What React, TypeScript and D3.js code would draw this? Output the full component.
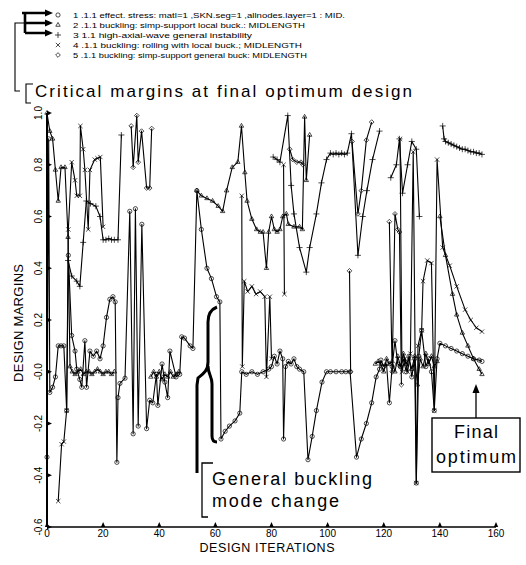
import * as d3 from 'd3';

type Pt = [number, number] | null;

// legend text for the five constraints
const legendLabels = [
  '1 .1.1 effect. stress: matl=1 ,SKN.seg=1 ,allnodes.layer=1 : MID.',
  '2 .1.1 buckling: simp-support local buck.:  MIDLENGTH',
  '3  1.1 high-axial-wave general instability',
  '4 .1.1 buckling: rolling with local buck.;  MIDLENGTH',
  '5 .1.1 buckling: simp-support general buck: MIDLENGTH',
];
const legendWidths = [272, 232, 179, 229, 234];

// [iteration, margin], null = constraint not critical (gap)
const effectStress: Pt[] = [
  [0, -0.33], [0.6, 0.9], [1, -0.08], [2, -0.06], [3, -0.02], [4, 0.1], [5, 0.1], [6, 0.1], [7, -0.15], [7.6, 0.45],
  [8.8, 0.14], [10, 0.08], [10.6, 0.01], [11.7, -0.03], [12.4, -0.06], [13.5, 0.12], [14.1, -0.06], [15.3, 0.08],
  [16.5, 0.06], [17.7, 0.08], [18.9, 0.05], [20, 0.1], [21.2, 0.21], [22.4, 0.28], [23.5, 0.29], [24.3, 0.27],
  [24.9, -0.35], [25.3, -0.1], [26, -0.045], [27.8, -0.025], [29.5, 0.62], [30.7, -0.24], [31.5, 0.63], [32.5, -0.21],
  [33.8, 0.57], [35.5, -0.22], [36.6, -0.11], [37.7, -0.12], [39, -0.01], [39.5, -0.13], [41, 0.03], [42, -0.04],
  [43, -0.1], [43.8, 0.08], [46, -0.02], [47.3, -0.01], [48, 0.135], [49, 0.13], [51, 0.1], [52, 0.09], [53.4, 0.7],
  [55, 0.55], [57, 0.4], [58.6, 0.36], [60.4, 0.29], [61.6, 0.27], [62, -0.26], [63.5, -0.23], [65, -0.21], [67, -0.19],
  [68.7, -0.16], [69.4, 0.0], [71, -0.01], [73, 0.0], [75, -0.01], [77, 0.0], [79, 0.01], [80, 0.02], [81, 0.06],
  [82, 0.03], [83, 0.08], [84, 0.05], [84.3, -0.26], [85, 0.02], [86, 0.04], [87, 0.03], [88, 0.05], [89, 0.02],
  [90, 0.01], [91.5, 0.0], [93, -0.34], [94.5, -0.25], [96, -0.15], [98, -0.04], [99.6, 0.0], [101, 0.0], [103, 0.0],
  [105, 0.0], [106.5, 0.0], [108, 0.0], [110.3, -0.33], [112, -0.26], [113.8, -0.2], [115.7, -0.12], [117.3, -0.02],
  [118.5, 0.01], [119, 0.045], [120, 0.02], [121, 0.03], [122, -0.12], [123, 0.02], [124, 0.12], [125, 0.03],
  [126, 0.02], [127, 0.05], [128, 0.0], [129, 0.06], [130, -0.02], [131, 0.05], [131.6, -0.43], [132.5, 0.06],
  [133.5, 0.16], [135, 0.02], [136, 0.05], [137, 0.0], [138, -0.15], [139, 0.05], [140, 0.11], [142, 0.1],
  [144, 0.09], [146, 0.08], [148, 0.07], [150, 0.06], [152, 0.05], [154, 0.045], [155, 0.04],
];

const localBuck: Pt[] = [
  [0, 1.0], [1, 0.93], [2, 0.9], [3, 0.78], [4, 0.66], [5, 0.79], [6.4, 0.79], [7.5, 0.52], [8.2, 0.02], [9, 0.0],
  [10, -0.01], [11, 0.0], [12, 0.01], [13, -0.01], [14, 0.0], [15, 0.0], [16, -0.01], [17, 0.0], [18, 0.01], [19, 0.0],
  [20, -0.01], [21, 0.0], [22, 0.0], [23, -0.01], [24, 0.0], null,
  [37, -0.02], [38, 0.0], [39, -0.02], [40, 0.0], [41, -0.03], [42, -0.01], [43, -0.02], [44, 0.0], [45, -0.02],
  [46, -0.01], [47, 0.0], null,
  [53.4, 0.7], [55, 0.68], [57, 0.67], [59, 0.66], [61, 0.64], [62.6, 0.62], [64, 0.7], [66, 0.79], [68, 0.81],
  [69.3, 0.95], [70.5, 0.77], [71.3, 0.66], [73, 0.59], [74.7, 0.55], [76, 0.54], [77, 0.54], [78.2, 0.4], [79, 0.54],
  [80, 0.6], [81, 0.55], [82, 0.54], [83, 0.55], [84, 0.6], [85.3, 0.61], [86, 0.57], [88, 0.56], [90, 0.56],
  [91, 0.55], [91.8, 0.985], [92.4, 0.74], [93.6, 0.915], null,
  [117, 0.03], [118, 0.04], [119, 0.03], [120, 0.0], [121, 0.05], [122, 0.03], [123, 0.04], [124, 0.0], [125, 0.06],
  [126, 0.02], [127, 0.07], [128, 0.03], [129, 0.05], [130, 0.01], [131, 0.06], [132, -0.05], [133, 0.05], [134, 0.02],
  [135, 0.07], [136, 0.03], [137, 0.06], [138, 0.02], [139, 0.04], null,
  [140, 0.6], [142, 0.45], [144.5, 0.3], [146, 0.22], [148, 0.15], [150, 0.1], [152, 0.05], [154, 0.01], [155, -0.01],
];

const generalInstab: Pt[] = [
  [7.5, 0.43], [8.8, 0.37], [10.6, 0.35], [11.7, 0.33], [12.9, 0.5], [14, 0.66], [15.5, 0.65], [17.4, 0.64],
  [18.9, 0.6], [20, 0.51], [21, 0.51], [22, 0.515], [23, 0.51], [24, 0.51], [25.3, 0.51], [26.5, 0.915], null,
  [80.6, 0.83], [82, 0.82], [83, 0.81], [85.8, 0.99], [87, 0.72], [88, 0.61], [90, 0.48], [92.4, 0.385], [93.6, 0.48],
  [96, 0.61], [97.8, 0.73], [99.6, 0.82], [101, 0.845], [102, 0.84], [103, 0.845], [104, 0.84], [105, 0.845],
  [106, 0.84], [107, 0.845], [108.5, 0.92], [110.8, 0.45], [112.5, 0.6], [114, 0.7], [116, 0.82], [118.5, 0.93], null,
  [122.5, 0.75], [124.5, 0.8], [125.6, 0.9], [126.7, 0.69], [128.5, 0.8], [130, 0.89], [131.6, 0.86], [132.7, 0.6], null,
  [141, 0.95], [141.5, 0.9], [142, 0.89], [143, 0.885], [144, 0.88], [145, 0.875], [146, 0.87], [147, 0.865],
  [148, 0.86], [149, 0.86], [150, 0.855], [151, 0.85], [152, 0.85], [153, 0.845], [154, 0.845], [155, 0.84],
];

const rollingBuck: Pt[] = [
  [4, -0.5], [5.2, -0.28], [6, -0.27], [7, -0.15], [7.6, 0.55], [8.8, 0.81], [10, 0.74], [10.6, 0.68], [11.7, 0.68],
  [11.9, 0.95], [12.9, 0.86], [13.5, 0.78], [14.7, 0.55], [15.3, 0.78], [17, 0.82], [18, 0.825], [19, 0.83],
  [20, 0.56], null,
  [69.4, 0.68], [69.6, 0.02], [70.3, 0.35], [71.5, 0.31], [73, 0.33], [74.5, 0.3], [76, 0.31], [77.6, 0.29],
  [78.2, -0.02], [79.4, 0.29], [80, 0.05], null,
  [84.3, 0.8], [84.6, 0.3], null,
  [125.8, 0.9], [126.5, 0.0], [127.5, 0.05], [128.5, 0.0], [129.5, 0.07], [130.5, 0.85], [131.6, -0.43],
  [132.2, 0.1], [133.5, 0.16], [134, 0.35], [135.5, 0.43], [137, 0.42], [138, -0.15], [139, 0.82], [141, 0.48],
  [143.5, 0.41], [146, 0.33], [149, 0.24], [151, 0.2], [153, 0.17], [155, 0.155],
];

const generalBuck: Pt[] = [
  [30, 0.95], [30.7, 0.79], [32, 0.99], [32.5, 0.81], [33.7, 0.93], [35.5, 0.71], [36.6, 0.71], [37.3, 0.94], null,
  [86.5, 0.86], [87.6, 0.82], [89, 0.81], [90.5, 0.81], [91.2, 0.8], null,
  [107.8, 0.39], [108.2, 0.0], null,
  [108.7, 0.89], [110.8, 0.61], [112, 0.7], [113.8, 0.895], [115.7, 0.965], null,
  [122, 0.58], [123, 0.0], [124, 0.61], [125, 0.55], [125.6, 0.54], [126.3, -0.05],
];

const allSeries = [effectStress, localBuck, generalInstab, rollingBuck, generalBuck];

const xTicks = [0, 20, 40, 60, 80, 100, 120, 140, 160];
const yTicks = [-0.6, -0.4, -0.2, 0, 0.2, 0.4, 0.6, 0.8, 1.0];
const yTickLabels = ['-0.6', '-0.4', '-0.2', '-0.0', '0.2', '0.4', '0.6', '0.8', '1.0'];

const font = 'Liberation Sans, Arial, Helvetica, sans-serif';

export default function App() {
  const x = d3.scaleLinear().domain([0, 160]).range([47, 496]);
  const y = d3.scaleLinear().domain([-0.6, 1.0]).range([527, 113]);

  const line = d3
    .line<Pt>()
    .defined((d) => d !== null)
    .x((d) => x((d as [number, number])[0]))
    .y((d) => y((d as [number, number])[1]));

  const symbolTypes = [d3.symbolCircle, d3.symbolTriangle2, d3.symbolPlus, d3.symbolTimes, d3.symbolDiamond2];
  const symbolPaths = symbolTypes.map((t) => d3.symbol().type(t).size(14)());

  return (
    <svg
      width={526}
      height={565}
      style={{ position: 'absolute', left: 0, top: 0, background: '#fff' }}
      fontFamily={font}
    >
      <rect width={526} height={565} fill="#fff" />

      {/* legend pointer arrows */}
      <g stroke="#000" fill="none">
        <path d="M22,13 H47 M25,13 V33 M25,23 H47 M25,33 H47" strokeWidth={2.6} />
        <path d="M25,23 H15 V91 H20" strokeWidth={1.1} />
        <path d="M33,84 H26 V103 H31" strokeWidth={1.1} />
      </g>
      <g fill="#000">
        {[13, 23, 33].map((yy) => (
          <path key={yy} d={`M45,${yy - 3.5} L53,${yy} L45,${yy + 3.5} Z`} />
        ))}
      </g>

      {/* legend */}
      {legendLabels.map((lab, i) => (
        <g key={lab}>
          <path
            d={symbolPaths[i] as string}
            transform={`translate(58,${15 + i * 10})`}
            fill="none"
            stroke="#000"
            strokeWidth={0.7}
          />
          <text
            x={73}
            y={18 + i * 10}
            fontSize={7.6}
            textLength={legendWidths[i]}
            lengthAdjust="spacingAndGlyphs"
          >
            {lab}
          </text>
        </g>
      ))}

      <text x={35} y={97} fontSize={17} textLength={377} lengthAdjust="spacing">
        Critical margins at final optimum design
      </text>

      {/* series */}
      <g fill="none" stroke="#000" strokeWidth={1.1} strokeLinejoin="round">
        {allSeries.map((s, i) => (
          <path key={i} d={line(s) as string} />
        ))}
      </g>
      <g fill="none" stroke="#000" strokeWidth={0.7}>
        {allSeries.map((s, i) =>
          s
            .filter((d): d is [number, number] => d !== null)
            .map((d, j) => (
              <path key={`${i}-${j}`} d={symbolPaths[i] as string} transform={`translate(${x(d[0])},${y(d[1])})`} />
            )),
        )}
      </g>

      {/* axes */}
      <g stroke="#000">
        <line x1={x(0)} x2={x(0)} y1={y(1.0)} y2={y(-0.6)} strokeWidth={2} />
        <line x1={x(0)} x2={x(160)} y1={y(-0.6)} y2={y(-0.6)} strokeWidth={1.6} />
      </g>
      <g fill="#000">
        {xTicks.map((t) => (
          <path key={t} d={`M${x(t) - 2.2},${y(-0.6)} L${x(t) + 2.2},${y(-0.6)} L${x(t)},${y(-0.6) - 5} Z`} />
        ))}
        {yTicks.map((t) => (
          <path key={t} d={`M${x(0)},${y(t) - 2.2} L${x(0)},${y(t) + 2.2} L${x(0) + 5},${y(t)} Z`} />
        ))}
      </g>
      <g fontSize={10} textAnchor="middle">
        {xTicks.map((t) => (
          <text key={t} x={x(t)} y={537}>
            {t}
          </text>
        ))}
        {yTicks.map((t, i) => (
          <text key={t} transform={`translate(42,${y(t)}) rotate(-90)`}>
            {yTickLabels[i]}
          </text>
        ))}
      </g>
      <text x={267} y={552} fontSize={12.5} textAnchor="middle" textLength={135}>
        DESIGN ITERATIONS
      </text>
      <text transform="translate(23,323) rotate(-90)" fontSize={13} textAnchor="middle" textLength={118}>
        DESIGN MARGINS
      </text>

      {/* general buckling annotation */}
      <g fill="none" stroke="#000">
        <path
          d="M217,307 C212,309 208,313 208,322 L208,362 C208,371 203,374 198,378 L197,385 L197,473"
          strokeWidth={3}
        />
        <path d="M208,366 C208,374 212,376 212,384 L212,436 C212,440 214,442 217,442" strokeWidth={3} />
        <path d="M213,463 H202 V517 H208" strokeWidth={1.3} />
      </g>
      <text x={212} y={485} fontSize={18} textLength={160} lengthAdjust="spacing">
        General buckling
      </text>
      <text x={212} y={507} fontSize={18} textLength={127} lengthAdjust="spacing">
        mode change
      </text>

      {/* final optimum annotation */}
      <rect x={432} y={418} width={88} height={54} fill="#fff" stroke="#000" strokeWidth={1.4} />
      <line x1={476} x2={476} y1={418} y2={392} stroke="#000" strokeWidth={1.3} />
      <path d="M472.5,393 L476,384 L479.5,393 Z" fill="#000" />
      <text x={476} y={438} fontSize={18} textAnchor="middle" textLength={44}>
        Final
      </text>
      <text x={476} y={463} fontSize={18} textAnchor="middle" textLength={80}>
        optimum
      </text>
    </svg>
  );
}
